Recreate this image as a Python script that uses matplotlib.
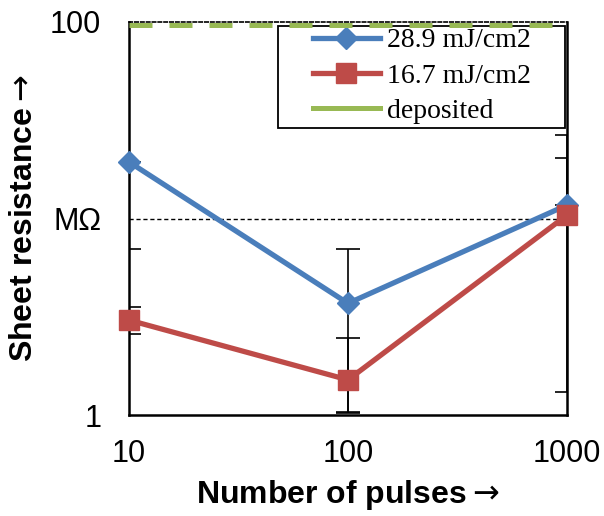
import matplotlib
matplotlib.use("Agg")
import matplotlib.pyplot as plt
from matplotlib.lines import Line2D
from matplotlib.patches import Rectangle
import numpy as np

pulses = [10, 100, 1000]
blue_vals = [19.4, 3.7, 11.7]
blue_low = [7.0, 1.04, 11.7]
blue_high = [19.4, 7.0, 26.6]
red_vals = [3.04, 1.51, 10.4]
red_low = [2.58, 1.02, 1.31]
red_high = [3.54, 2.47, 20.3]
deposited = 96
ref_level = 10
x_ticks = [10, 100, 1000]
x_labels = ["10", "100", "1000"]
y_ticks = [1, 10, 100]
y_labels = ["1", "MΩ", "100"]
series_names = ["28.9 mJ/cm2", "16.7 mJ/cm2", "deposited"]

c_blue = "#4A7EBB"
c_red = "#BE4B48"
c_green = "#98B954"

plt.rcParams["mathtext.fontset"] = "dejavusans"

fig = plt.figure(figsize=(6.04, 5.16), dpi=100)
ax = fig.add_axes([0.2136, 0.1957, 0.7251, 0.7617])
ax.set_xscale("log")
ax.set_yscale("log")
ax.set_xlim(10, 1000)
ax.set_ylim(1, 100)

ax.plot([pulses[0], pulses[-1]], [ref_level, ref_level], color="black", lw=1.0,
        ls=(0, (3, 2)), zorder=2)
ax.plot([pulses[0], pulses[-1]], [deposited, deposited], color=c_green, lw=3.6,
        ls=(0, (4.6, 3.4)), zorder=7, clip_on=False)

def err(vals, lo, hi):
    v = np.array(vals); return [v - np.array(lo), np.array(hi) - v]

ax.errorbar(pulses, blue_vals, yerr=err(blue_vals, blue_low, blue_high), fmt="none",
            ecolor="black", elinewidth=1.2, capsize=8.5, capthick=1.2, zorder=3)
ax.errorbar(pulses, red_vals, yerr=err(red_vals, red_low, red_high), fmt="none",
            ecolor="black", elinewidth=1.2, capsize=8.5, capthick=1.2, zorder=3)

ax.plot(pulses, blue_vals, color=c_blue, lw=3.8, marker="D", ms=11,
        mec=c_blue, mfc=c_blue, zorder=4, clip_on=False)
ax.plot(pulses, red_vals, color=c_red, lw=3.8, marker="s", ms=14,
        mec=c_red, mfc=c_red, zorder=5, clip_on=False)

ax.set_xticks(x_ticks)
ax.set_xticklabels(x_labels)
ax.set_yticks(y_ticks)
ax.set_yticklabels(y_labels)
ax.minorticks_off()
ax.tick_params(axis="x", length=0, labelsize=22, pad=17)
ax.tick_params(axis="y", length=0, labelsize=22, pad=20)
for lab in ax.get_xticklabels() + ax.get_yticklabels():
    lab.set_fontfamily("Liberation Sans")

for s in ax.spines.values():
    s.set_linewidth(1.8)
    s.set_color("black")
ax.spines["top"].set_linewidth(1.2)
ax.spines["top"].set_linestyle((0, (2, 1.5)))

ax.set_xlabel("Number of pulses$\\rightarrow$", fontsize=23, fontweight="bold",
              fontfamily="Liberation Sans", labelpad=7)
ax.set_ylabel("Sheet resistance$\\rightarrow$", fontsize=23, fontweight="bold",
              fontfamily="Liberation Sans", labelpad=8)

# legend frame
ax.add_patch(Rectangle((0.340, 0.730), 0.655, 0.260, transform=ax.transAxes,
                       facecolor="white", edgecolor="black", lw=1.3, zorder=6,
                       clip_on=False))
handles = [
    Line2D([], [], color=c_blue, lw=3.8, marker="D", ms=11),
    Line2D([], [], color=c_red, lw=3.8, marker="s", ms=14),
    Line2D([], [], color=c_green, lw=3.6),
]
leg = ax.legend(handles, series_names, loc="upper left",
                bbox_to_anchor=(0.42, 0.985), prop={"family": "Liberation Serif", "size": 20},
                frameon=False, handlelength=2.4, labelspacing=0.36, borderpad=0,
                handletextpad=0.25, borderaxespad=0)
leg.set_zorder(6.5)

fig.savefig("out.png", dpi=100)
